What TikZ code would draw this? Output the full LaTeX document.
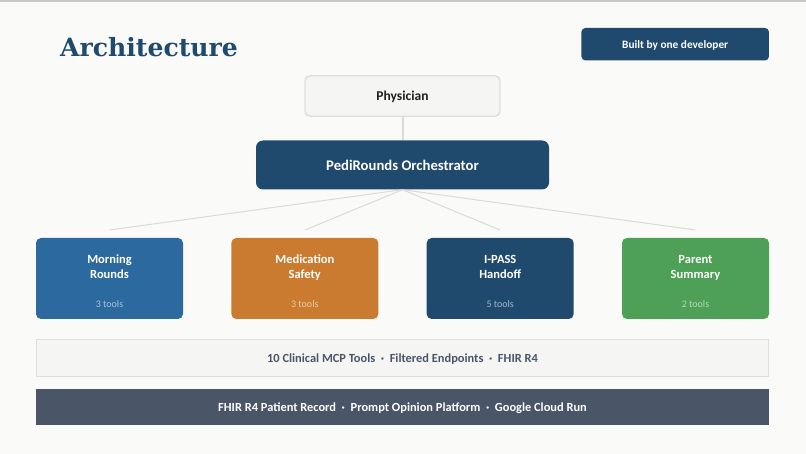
\documentclass[tikz,border=0pt]{standalone}
\usepackage{fontspec}
\setmainfont{Carlito}
\newfontfamily\titlefont{DejaVu Serif}
\definecolor{bgc}{HTML}{FAFAF8}
\definecolor{navy}{HTML}{1F4A6E}
\definecolor{bluec}{HTML}{2B699F}
\definecolor{orangec}{HTML}{CB7B30}
\definecolor{greenc}{HTML}{4DA055}
\definecolor{slatec}{HTML}{4A5568}
\definecolor{lightc}{HTML}{F5F5F4}
\definecolor{edgec}{HTML}{DEDEDC}
\definecolor{linec}{HTML}{DDDAD6}
\definecolor{inkc}{HTML}{1F1F1F}
\definecolor{bandink}{HTML}{4A5568}
\newcommand{\ctl}{\rule[-3.5pt]{0pt}{14.5pt}}
\newcommand{\lowered}[1]{\rule[-#1pt]{0pt}{15pt}}
\tikzset{
  box/.style={rectangle,inner sep=0pt,align=center,font=\bfseries},
  rbox/.style={box,rounded corners=#1},
  cardbox/.style={rbox=5pt,minimum width=147pt,minimum height=81pt},
  cardtitle/.style={inner sep=0pt,align=center,text=white,font=\bfseries\fontsize{12.5}{14.8}\selectfont},
  cardnote/.style={inner sep=0pt,text=white,opacity=.6,font=\fontsize{10}{12}\selectfont},
  wire/.style={draw=linec,line width=1pt},
}
\begin{document}
\begin{tikzpicture}[x=1pt,y=-1pt]
\useasboundingbox (0,0) rectangle (806,454);
\fill[bgc] (0,0) rectangle (806,454);
\coordinate (tl) at (0,1);
\coordinate (tr) at (806,1);
\draw[draw=black!22,line width=2pt] (tl) -- (tr);

\coordinate (end1) at (109.5,230);
\coordinate (end2) at (305,230);
\coordinate (end3) at (500,230);
\coordinate (end4) at (695.5,230);

\node[inner sep=0pt,anchor=base west,text=navy,font=\titlefont\bfseries\fontsize{25.1}{30}\selectfont] (title) at (60,56.5) {Architecture};
\node[rbox=4pt,fill=navy,text=white,minimum width=187.5pt,minimum height=32.5pt,font=\bfseries\fontsize{11.3}{14}\selectfont] (badge) at (675.2,44.2) {\lowered{3.5}Built by one developer};
\node[rbox=5pt,fill=lightc,draw=edgec,line width=1.4pt,text=inkc,minimum width=195pt,minimum height=40.5pt,font=\bfseries\fontsize{13.5}{16}\selectfont] (phys) at (402.5,96) {\lowered{3}Physician};
\node[rbox=7pt,fill=navy,text=white,minimum width=293pt,minimum height=49pt,font=\bfseries\fontsize{14.7}{18}\selectfont] (orch) at (402.5,165) {PediRounds Orchestrator};

\draw[draw=linec,line width=2pt] (phys.south) -- (orch.north);
\draw[wire] (orch.south) -- (end1);
\draw[wire] (orch.south) -- (end2);
\draw[wire] (orch.south) -- (end3);
\draw[wire] (orch.south) -- (end4);

\node[cardbox,fill=bluec] (c1) at (109.5,278.5) {};
\node[cardbox,fill=orangec] (c2) at (304.8,278.5) {};
\node[cardbox,fill=navy] (c3) at (500.2,278.5) {};
\node[cardbox,fill=greenc] (c4) at (695.5,278.5) {};

\node[cardtitle] (t1) at (109.5,267.4) {\ctl Morning\\\ctl Rounds};
\node[cardtitle] (t2) at (304.8,267.4) {\ctl Medication\\\ctl Safety};
\node[cardtitle] (t3) at (500.2,267.4) {\ctl I-PASS\\\ctl Handoff};
\node[cardtitle] (t4) at (695.5,267.4) {\ctl Parent\\\ctl Summary};
\node[cardnote] (n1) at (109.5,303.6) {3 tools};
\node[cardnote] (n2) at (304.8,303.6) {3 tools};
\node[cardnote] (n3) at (500.2,303.6) {5 tools};
\node[cardnote] (n4) at (695.5,303.6) {2 tools};

\node[box,fill=lightc,draw=edgec,line width=1.5pt,text=bandink,minimum width=732pt,minimum height=36.5pt,font=\bfseries\fontsize{12.4}{14}\selectfont] (b1) at (402.5,358) {\lowered{3}10 Clinical MCP Tools\ \ ·\ \ Filtered Endpoints\ \ ·\ \ FHIR R4};
\node[box,fill=slatec,text=white,minimum width=733pt,minimum height=36.5pt,font=\bfseries\fontsize{12.4}{14}\selectfont] (b2) at (402.5,407) {\lowered{3}FHIR R4 Patient Record\ \ ·\ \ Prompt Opinion Platform\ \ ·\ \ Google Cloud Run};
\end{tikzpicture}
\end{document}
